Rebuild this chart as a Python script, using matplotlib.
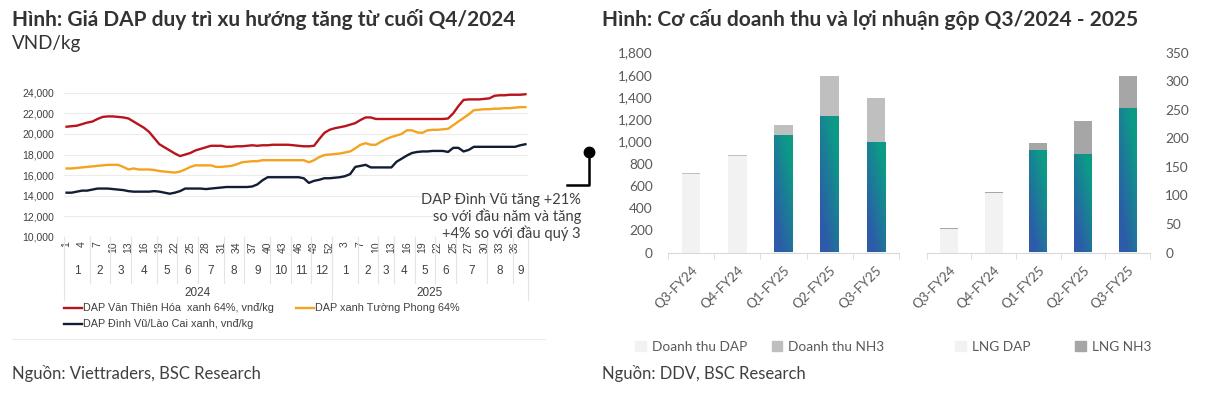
import numpy as np
import matplotlib
matplotlib.use('Agg')
import matplotlib.pyplot as plt
import matplotlib.transforms as mtransforms
from matplotlib.colors import LinearSegmentedColormap
from matplotlib.lines import Line2D
from matplotlib.patches import Patch

plt.rcParams['font.family'] = ['Lato', 'DejaVu Sans']

# ---- left chart data: weekly DAP prices (VND/kg)
weeks_2024 = list(range(1, 53))
weeks_2025 = [1, 2, 3, 4, 5, 7, 8, 9, 10, 11, 12, 13, 14, 15, 16, 17, 18, 19, 20,
              21, 22, 23, 24, 25, 25, 26, 27, 28, 29, 30, 31, 32, 33, 34, 35, 36, 37, 38]
months_2024 = ['1', '2', '3', '4', '5', '6', '7', '8', '9', '10', '11', '12']
month_counts_2024 = [5, 4, 4, 5, 4, 4, 5, 4, 5, 4, 4, 4]
months_2025 = ['1', '2', '3', '4', '5', '6', '7', '8', '9']
month_counts_2025 = [5, 4, 3, 4, 4, 4, 6, 5, 3]
years = ['2024', '2025']

van_thien_hoa = [
    20700, 20750, 20800, 20950, 21100, 21200, 21450, 21650, 21700, 21700,
    21650, 21600, 21500, 21200, 20900, 20600, 20200, 19600, 19000, 18700,
    18400, 18100, 17850, 18000, 18150, 18400, 18550, 18700, 18850, 18850,
    18850, 18750, 18750, 18800, 18800, 18850, 18900, 18850, 18900, 18900,
    18950, 18950, 18950, 18950, 18900, 18850, 18800, 18800, 18850, 19500,
    20100, 20400, 20550, 20650, 20750, 20900, 21050, 21350, 21600, 21600,
    21450, 21450, 21450, 21450, 21450, 21450, 21450, 21450, 21450, 21450,
    21450, 21450, 21450, 21450, 21500, 22000, 22700, 23300, 23350, 23350,
    23350, 23400, 23450, 23700, 23750, 23750, 23800, 23800, 23800, 23850]
tuong_phong = [
    16650, 16650, 16700, 16750, 16800, 16850, 16900, 16950, 17000, 17000,
    17000, 16800, 16550, 16650, 16550, 16550, 16550, 16500, 16400, 16350,
    16300, 16250, 16350, 16550, 16800, 16950, 16950, 16950, 16950, 16800,
    16800, 16850, 16900, 17050, 17250, 17300, 17350, 17350, 17450, 17450,
    17450, 17450, 17450, 17450, 17450, 17450, 17450, 17250, 17450, 17750,
    17950, 18000, 18050, 18100, 18200, 18300, 18600, 18950, 19100, 18950,
    18950, 19250, 19500, 19700, 19850, 20000, 20350, 20350, 20150, 20100,
    20350, 20400, 20400, 20450, 20500, 20850, 21200, 21550, 21900, 22300,
    22350, 22400, 22400, 22450, 22450, 22500, 22500, 22550, 22600, 22600]
dinh_vu = [
    14300, 14300, 14400, 14500, 14500, 14600, 14700, 14700, 14700, 14650,
    14600, 14550, 14450, 14400, 14400, 14400, 14400, 14450, 14400, 14300,
    14200, 14300, 14450, 14700, 14700, 14700, 14700, 14650, 14700, 14750,
    14800, 14850, 14850, 14850, 14850, 14850, 14900, 15100, 15500, 15800,
    15800, 15800, 15800, 15800, 15800, 15800, 15700, 15250, 15450, 15550,
    15700, 15700, 15750, 15800, 15900, 16100, 16800, 16900, 17000, 16750,
    16750, 16750, 16750, 16750, 17300, 17600, 17900, 18150, 18250, 18300,
    18300, 18350, 18350, 18350, 18250, 18650, 18650, 18300, 18450, 18750,
    18750, 18750, 18750, 18750, 18750, 18750, 18750, 18750, 18900, 19000]

# ---- right chart data: revenue / gross profit (bn VND)
quarters = ['Q3-FY24', 'Q4-FY24', 'Q1-FY25', 'Q2-FY25', 'Q3-FY25']
rev_dap = [705, 866, 1050, 1220, 987]
rev_nh3 = [12, 12, 100, 370, 405]
gp_dap = [41, 104, 177, 171, 252]
gp_nh3 = [1.5, 1.5, 15, 60, 57]
highlight = [False, False, True, True, True]

W, H = 1209, 396
fig = plt.figure(figsize=(W / 100, H / 100), dpi=100)


def fx(px):
    return px / W


def fy(py):
    return 1 - py / H


txt = '#404040'
line_font = ['Liberation Sans', 'DejaVu Sans']

# titles
fig.text(fx(12), fy(20), 'Hình: Giá DAP duy trì xu hướng tăng từ cuối Q4/2024',
         fontsize=15, fontweight='bold', color='#333333', va='center')
fig.text(fx(12), fy(44), 'VND/kg', fontsize=13.5, color='#333333', va='center')
fig.text(fx(602), fy(20), 'Hình: Cơ cấu doanh thu và lợi nhuận gộp Q3/2024 - 2025',
         fontsize=15, fontweight='bold', color='#333333', va='center')
fig.text(fx(12), fy(373), 'Nguồn: Viettraders, BSC Research', fontsize=12, color=txt, va='center')
fig.text(fx(602), fy(373), 'Nguồn: DDV, BSC Research', fontsize=12, color=txt, va='center')

# ================= line chart
ax = fig.add_axes([fx(64), fy(237), fx(464), (237 - 92.7) / H])
all_weeks = weeks_2024 + weeks_2025
x = np.arange(len(all_weeks))
ax.plot(x, van_thien_hoa, color='#b8141c', lw=1.7, label='DAP Văn Thiên Hóa  xanh 64%, vnđ/kg')
ax.plot(x, tuong_phong, color='#f5a31f', lw=1.7, label='DAP xanh Tường Phong 64%')
ax.plot(x, dinh_vu, color='#121d33', lw=1.7, label='DAP Đình Vũ/Lào Cai xanh, vnđ/kg')
ax.set_xlim(-0.5, len(all_weeks) - 0.5)
ax.set_ylim(10000, 24000)
ax.set_yticks(range(10000, 24001, 2000))
ax.set_yticklabels([f'{v:,}' for v in range(10000, 24001, 2000)], fontsize=7.5,
                   color=txt, family=line_font)
ax.grid(axis='y', color='#ececec', lw=0.8)
for s in ax.spines.values():
    s.set_visible(False)
ax.tick_params(length=0, pad=7)
ax.set_xticks(x[::3])
ax.set_xticklabels([str(w) for w in all_weeks[::3]], rotation=90, fontsize=7.5,
                   color=txt, family=line_font, va='top')
ax.tick_params(axis='x', pad=3)

trans = mtransforms.blended_transform_factory(ax.transData, ax.transAxes)
sep = '#e4e4e4'
start = 0
for yr, labels, counts in [(years[0], months_2024, month_counts_2024),
                           (years[1], months_2025, month_counts_2025)]:
    ystart = start
    for lab, c in zip(labels, counts):
        ax.text(start + (c - 1) / 2, -0.235, lab, transform=trans, ha='center', va='center',
                fontsize=8.5, color=txt, family=line_font)
        ax.add_line(Line2D([start - 0.5, start - 0.5], [0, -0.32], transform=trans,
                           color=sep, lw=0.8, clip_on=False))
        start += c
    ax.text(ystart + (start - ystart - 1) / 2, -0.385, yr, transform=trans, ha='center',
            va='center', fontsize=8.5, color=txt, family=line_font)
    ax.add_line(Line2D([ystart - 0.5, ystart - 0.5], [0, -0.44], transform=trans,
                       color=sep, lw=0.8, clip_on=False))
ax.add_line(Line2D([start - 0.5, start - 0.5], [0, -0.44], transform=trans,
                   color=sep, lw=0.8, clip_on=False))

h = ax.get_legend_handles_labels()[0]
ax.legend([h[0], h[2], h[1]], [h[0].get_label(), h[2].get_label(), h[1].get_label()],
          ncol=2, loc='upper left', bbox_to_anchor=(-0.01, -0.43), frameon=False,
          prop={'family': line_font, 'size': 7.8}, handlelength=1.7, handletextpad=0.1,
          columnspacing=2.0, labelspacing=0.55, borderaxespad=0, labelcolor=txt)
fig.add_artist(Line2D([fx(12), fx(545)], [fy(339), fy(339)], color='#ececec', lw=0.8))

# annotation callout
fig.text(fx(581), fy(217), 'DAP Đình Vũ tăng +21%\nso với đầu năm và tăng\n+4% so với đầu quý 3',
         ha='right', va='center', fontsize=10.5, color=txt, linespacing=1.15)
fig.add_artist(Line2D([fx(567), fx(589), fx(589)], [fy(185), fy(185), fy(152)],
                      color='black', lw=1.8))
fig.add_artist(Line2D([fx(589)], [fy(152)], marker='o', markersize=7.5, color='black'))

# ================= bar charts
cmap = LinearSegmentedColormap.from_list('bt', ['#2d5ba9', '#0c9a87'])
gx, gy = np.meshgrid(np.linspace(0, 1, 20), np.linspace(0, 1, 100))
grad = np.clip((0.5 * gx + 0.7 * gy - 0.2) / 0.8, 0, 1)
lab_col = '#5a5a5a'


def bar_panel(rect, dap, nh3, nh3_color, ymax, ystep, right):
    bx = fig.add_axes(rect)
    xs = np.arange(len(quarters))
    bars = bx.bar(xs, dap, width=0.4, color='#f2f2f2', zorder=2)
    bx.bar(xs, nh3, bottom=dap, width=0.4, color=nh3_color, zorder=2)
    for b, hl in zip(bars, highlight):
        if hl:
            bx.imshow(grad, cmap=cmap, origin='lower', aspect='auto', zorder=3,
                      extent=[b.get_x(), b.get_x() + b.get_width(), 0, b.get_height()])
    bx.set_xlim(-0.5, len(quarters) - 0.5)
    bx.set_ylim(0, ymax)
    bx.set_yticks(np.arange(0, ymax + 1, ystep))
    bx.set_yticklabels([f'{v:,}' for v in np.arange(0, ymax + 1, ystep)], fontsize=9.8,
                       color=lab_col)
    for s in ['top', 'left', 'right']:
        bx.spines[s].set_visible(False)
    bx.spines['bottom'].set_color('#d9d9d9')
    bx.set_xticks(xs)
    bx.set_xticklabels(quarters, rotation=45, ha='right', rotation_mode='anchor',
                       fontsize=9.5, color=lab_col)
    bx.set_xticks(np.arange(-0.5, len(quarters)), minor=True)
    bx.tick_params(axis='x', which='major', length=0, pad=8)
    bx.tick_params(axis='x', which='minor', length=4, color='#d9d9d9')
    bx.tick_params(axis='y', length=0, pad=11)
    if right:
        bx.yaxis.tick_right()
    return bx


bar_panel([fx(668), fy(252.5), fx(231), 200 / H], rev_dap, rev_nh3, '#bfbfbf', 1800, 200, False)
bar_panel([fx(926.7), fy(252.5), fx(223.3), 200 / H], gp_dap, gp_nh3, '#a6a6a6', 350, 50, True)

leg_kw = dict(frameon=False, fontsize=9.8, handlelength=0.8, handleheight=0.8,
              handletextpad=0.4, labelcolor=lab_col, loc='center left', ncol=2, borderaxespad=0)
fig.legend([Patch(color='#f2f2f2'), Patch(color='#bfbfbf')], ['Doanh thu DAP', 'Doanh thu NH3'],
           bbox_to_anchor=(fx(630), fy(347)), columnspacing=1.8, **leg_kw)
fig.legend([Patch(color='#f2f2f2'), Patch(color='#a6a6a6')], ['LNG DAP', 'LNG NH3'],
           bbox_to_anchor=(fx(950), fy(347)), columnspacing=3.3, **leg_kw)

fig.savefig('out.png', dpi=100)
